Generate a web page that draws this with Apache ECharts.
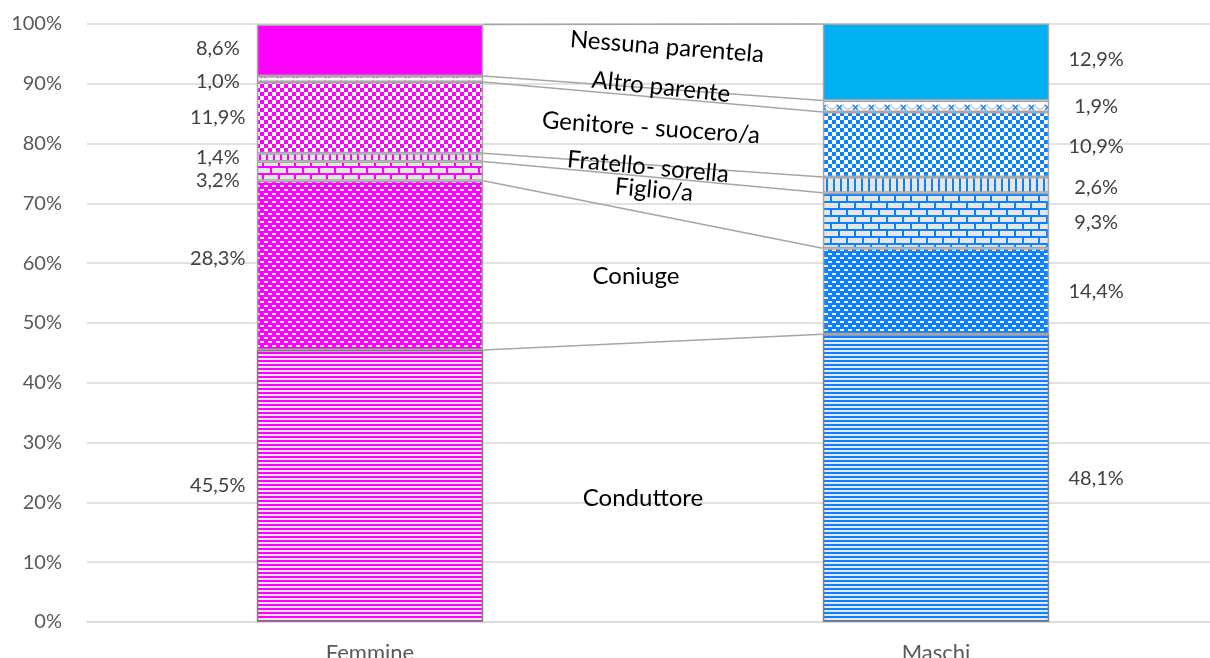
<!DOCTYPE html>
<html>
<head>
<meta charset="utf-8">
<script src="https://cdn.jsdelivr.net/npm/echarts@6/dist/echarts.min.js"></script>
<style>
  html, body { margin: 0; padding: 0; background: #ffffff; }
  #chart { width: 1210px; height: 658px; }
</style>
</head>
<body>
<div id="chart"></div>
<script>
// Relationship with the farm holder, share of workers by sex (stacked 100%)
const categories = ['Femmine', 'Maschi'];
const seriesNames = ['Conduttore', 'Coniuge', 'Figlio/a', 'Fratello- sorella',
                     'Genitore - suocero/a', 'Altro parente', 'Nessuna parentela'];
const femmine = [45.5, 28.3, 3.2, 1.4, 11.9, 1.0, 8.6];
const maschi  = [48.1, 14.4, 9.3, 2.6, 10.9, 1.9, 12.9];
const yTickStep = 10;

// ---- fill patterns -------------------------------------------------------
const PINK = '#FF00FF';
const BLUE = '#0A82FF';
const BLUE_SOLID = '#00B0F0';
const LIGHT = '#E6E6E6';

function tile(w, h, draw) {
  const c = document.createElement('canvas');
  c.width = w; c.height = h;
  draw(c.getContext('2d'));
  return { image: c, repeat: 'repeat' };
}
const patterns = {
  hstripe: col => tile(4, 4, g => {
    g.fillStyle = LIGHT; g.fillRect(0, 0, 4, 4);
    g.fillStyle = col; g.fillRect(0, 0, 4, 2);
  }),
  dash: col => tile(8, 8, g => {
    g.fillStyle = col; g.fillRect(0, 0, 8, 8);
    g.fillStyle = '#F2F2F2';
    g.fillRect(0, 1, 4, 2); g.fillRect(4, 5, 4, 2);
  }),
  brick: col => tile(16, 14, g => {
    g.fillStyle = col; g.fillRect(0, 0, 16, 14);
    g.fillStyle = LIGHT;
    g.fillRect(0, 0, 14, 5);
    g.fillRect(8, 7, 8, 5); g.fillRect(0, 7, 6, 5);
  }),
  vline: col => tile(7, 4, g => {
    g.fillStyle = LIGHT; g.fillRect(0, 0, 7, 4);
    g.fillStyle = col; g.fillRect(0, 0, 2, 4);
  }),
  checker: col => tile(8, 8, g => {
    g.fillStyle = '#ffffff'; g.fillRect(0, 0, 8, 8);
    g.fillStyle = col; g.fillRect(0, 0, 4, 4); g.fillRect(4, 4, 4, 4);
  }),
  wave: col => tile(16, 8, g => {
    g.fillStyle = '#ffffff'; g.fillRect(0, 0, 16, 8);
    g.strokeStyle = col; g.lineWidth = 1.5;
    g.beginPath();
    g.moveTo(5, 1); g.lineTo(10, 6); g.moveTo(10, 1); g.lineTo(5, 6);
    g.stroke();
    g.strokeStyle = '#B0B0B0'; g.lineWidth = 1;
    g.beginPath(); g.arc(0, 0, 5, 0, Math.PI / 2); g.stroke();
    g.beginPath(); g.arc(16, 0, 5, Math.PI / 2, Math.PI); g.stroke();
  }),
  solid: col => col
};
const patternKind = ['hstripe', 'dash', 'brick', 'vline', 'checker', 'wave', 'solid'];

// label nudges (pixels) so that thin slices do not collide
const nudgeF = [0, -7, 9, 0, 0, 3, -2];
const nudgeM = [0, 0, 2, 3, 2, 0, -2];

const fmt = v => v.toFixed(1).replace('.', ',') + '%';
const labelFont = { fontFamily: 'Lato', fontSize: 20, color: '#404040' };

const barSeries = seriesNames.map((name, k) => ({
  name,
  type: 'bar',
  stack: 'tot',
  barWidth: '40%',
  itemStyle: {
    borderColor: k === 0 ? '#808080' : '#A6A6A6',
    borderWidth: 1.5
  },
  label: Object.assign({ show: true, formatter: p => fmt(p.value) }, labelFont),
  data: [
    {
      value: femmine[k],
      itemStyle: { color: k === 6 ? PINK : patterns[patternKind[k]](PINK) },
      label: { position: 'left', distance: 39, align: 'center', offset: [0, nudgeF[k]] }
    },
    {
      value: maschi[k],
      itemStyle: { color: k === 6 ? BLUE_SOLID : patterns[patternKind[k]](BLUE) },
      label: { position: 'right', distance: 47, align: 'center', offset: [0, nudgeM[k]] }
    }
  ]
}));

// series lines joining the top of each slice across the two bars
let accF = 0, accM = 0;
const joinData = seriesNames.map((_, k) => {
  accF += femmine[k]; accM += maschi[k];
  return [0, Math.min(accF, 100), Math.min(accM, 100)];
});
const joinSeries = {
  type: 'custom',
  z: 3,
  silent: true,
  encode: { x: 0, y: [1, 2] },
  data: joinData,
  renderItem: (params, api) => {
    const a = api.coord([0, api.value(1)]);
    const b = api.coord([1, api.value(2)]);
    const half = api.size([1, 0])[0] * 0.2;
    return {
      type: 'line',
      shape: { x1: a[0] + half, y1: a[1], x2: b[0] - half, y2: b[1] },
      style: { stroke: '#A6A6A6', lineWidth: 1.5 }
    };
  }
};

// slice names written in the gap between the two bars
const deg = Math.PI / 180;
const namePlacement = [
  { x: 643, y: 498, r: 0 },
  { x: 636, y: 276, r: 0 },
  { x: 654, y: 190, r: -5 * deg },
  { x: 648, y: 167, r: -5.5 * deg },
  { x: 651, y: 128, r: -4 * deg },
  { x: 661, y: 87, r: -6 * deg },
  { x: 667, y: 47, r: -4.5 * deg }
];
const nameTexts = seriesNames.map((name, k) => ({
  type: 'text',
  x: namePlacement[k].x,
  y: namePlacement[k].y,
  rotation: namePlacement[k].r,
  z: 10,
  style: {
    text: name,
    fill: '#000000',
    font: '24px Lato',
    align: 'center',
    verticalAlign: 'middle'
  }
}));

const chart = echarts.init(document.getElementById('chart'), null, { renderer: 'canvas' });
chart.setOption({
  animation: false,
  backgroundColor: '#ffffff',
  grid: { left: 87, top: 24, width: 1132, height: 598, containLabel: false, outerBoundsMode: 'none' },
  xAxis: {
    type: 'category',
    data: categories,
    axisLine: { show: true, lineStyle: { color: '#D9D9D9', width: 1.5 } },
    axisTick: { show: false },
    axisLabel: { fontFamily: 'Lato', fontSize: 22, color: '#595959', margin: 20 }
  },
  yAxis: {
    type: 'value',
    min: 0,
    max: 100,
    interval: yTickStep,
    axisLine: { show: false },
    axisTick: { show: false },
    splitLine: { lineStyle: { color: '#D9D9D9', width: 1.5 } },
    axisLabel: { formatter: '{value}%', fontFamily: 'Lato', fontSize: 20, color: '#595959', margin: 25 }
  },
  graphic: nameTexts,
  series: barSeries.concat([joinSeries])
});
</script>
</body>
</html>
